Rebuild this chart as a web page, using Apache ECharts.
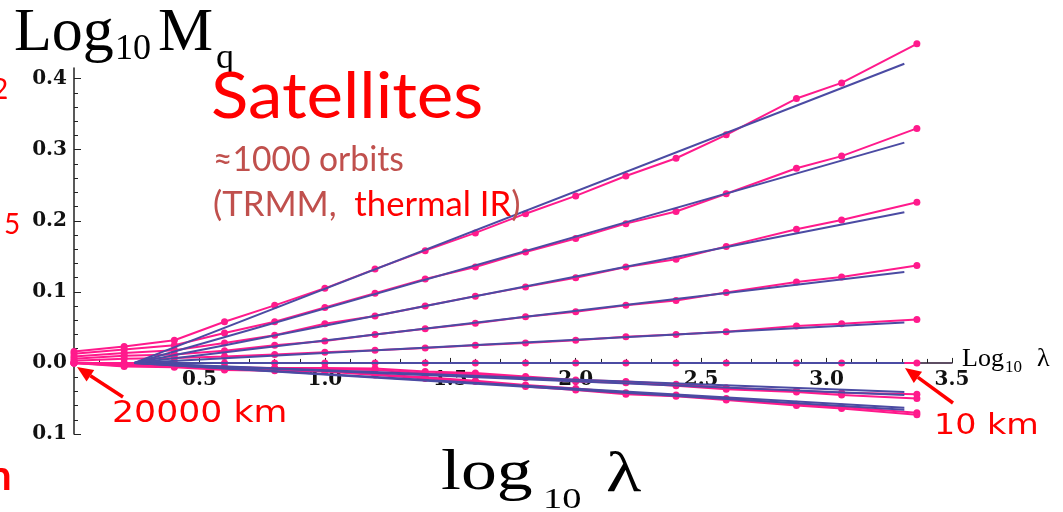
<!DOCTYPE html>
<html>
<head>
<meta charset="utf-8">
<script src="https://cdn.jsdelivr.net/npm/echarts@6/dist/echarts.min.js"></script>
<style>
  html, body { margin: 0; padding: 0; background: #fff; }
  #c { width: 1063px; height: 512px; }
</style>
</head>
<body>
<div id="c"></div>
<script>
// Scale axis: log10 of the scale ratio (0 = 20000 km, right end = 10 km)
const logLambda = [0, 0.2, 0.4, 0.6, 0.8, 1.0, 1.2, 1.4, 1.6, 1.8, 2.0, 2.2, 2.4, 2.6, 2.88, 3.06, 3.36];

// Normalised moments log10 M_q, one array per moment order (top to bottom)
const m1  = [0.016, 0.023, 0.032, 0.058, 0.081, 0.105, 0.132, 0.158, 0.183, 0.210, 0.235, 0.263, 0.288, 0.321, 0.372, 0.394, 0.449];
const m2  = [0.013, 0.019, 0.025, 0.042, 0.058, 0.078, 0.098, 0.118, 0.135, 0.156, 0.175, 0.196, 0.213, 0.238, 0.274, 0.291, 0.330];
const m3  = [0.009, 0.014, 0.018, 0.028, 0.039, 0.055, 0.066, 0.080, 0.094, 0.107, 0.120, 0.135, 0.146, 0.164, 0.188, 0.201, 0.226];
const m4  = [0.006, 0.010, 0.012, 0.017, 0.025, 0.031, 0.040, 0.048, 0.056, 0.065, 0.072, 0.081, 0.088, 0.099, 0.114, 0.121, 0.137];
const m5  = [0.003, 0.006, 0.007, 0.009, 0.012, 0.015, 0.018, 0.021, 0.025, 0.028, 0.032, 0.037, 0.040, 0.044, 0.052, 0.055, 0.061];
const m6  = [0, 0, 0, 0, 0, 0, 0, 0, 0, 0, 0, 0, 0, 0, 0, 0, 0];
const m7  = [0, -0.002, -0.003, -0.006, -0.007, -0.007, -0.008, -0.012, -0.014, -0.019, -0.024, -0.026, -0.030, -0.035, -0.039, -0.042, -0.044];
const m8  = [0, -0.003, -0.004, -0.007, -0.008, -0.009, -0.010, -0.014, -0.016, -0.021, -0.026, -0.028, -0.032, -0.037, -0.041, -0.045, -0.050];
const m9  = [0, -0.004, -0.005, -0.009, -0.010, -0.011, -0.016, -0.020, -0.025, -0.031, -0.036, -0.042, -0.045, -0.050, -0.058, -0.062, -0.070];
const m10 = [0, -0.005, -0.006, -0.010, -0.011, -0.012, -0.017, -0.022, -0.026, -0.033, -0.038, -0.044, -0.047, -0.052, -0.060, -0.064, -0.073];

// Straight-line fits: common start on the zero line, end values per moment order
const fitStartX = 0.24;
const fitEndX = 3.31;
const fitEndValues = [0.421, 0.310, 0.212, 0.128, 0.057, 0, -0.041, -0.045, -0.063, -0.066];

// Tick labels
const xTickValues = [0.5, 1.0, 1.5, 2.0, 2.5, 3.0, 3.5];
const xTickLabels = ['0.5', '1.0', '1.5', '2.0', '2.5', '3.0', '3.5'];
const yTickValues = [-0.1, 0, 0.1, 0.2, 0.3, 0.4];
const yTickLabels = ['0.1', '0.0', '0.1', '0.2', '0.3', '0.4'];

const PINK = '#ff1a8c';
const BLUE = '#4b4ba3';
const RED = '#ff0000';
const BROWN = '#c0504d';

const curves = [m1, m2, m3, m4, m5, m6, m7, m8, m9, m10];

const Y_MIN = -0.1, Y_MAX = 0.415;
const GRID = { left: 74, right: 111, top: 68, bottom: 78 };
const plotHeight = 512 - GRID.top - GRID.bottom;
// the horizontal axis sits on the zero line, lifted from the grid bottom
const zeroLift = plotHeight * (0 - Y_MIN) / (Y_MAX - Y_MIN);

// minor y ticks every 0.02 between the labelled ticks
const yMinor = [];
for (let k = -5; k <= 20; k++) { if (k % 5 !== 0) yMinor.push(k / 50); }

function labelFor(values, labels) {
  return function (v) {
    const i = values.findIndex(t => Math.abs(t - v) < 1e-9);
    return i < 0 ? '' : labels[i];
  };
}

const series = [];
curves.forEach(vals => {
  series.push({
    type: 'line',
    data: logLambda.map((x, i) => [x, vals[i]]),
    symbol: 'circle',
    symbolSize: 7,
    lineStyle: { color: PINK, width: 2 },
    itemStyle: { color: PINK },
    clip: false,
    silent: true,
    z: 3
  });
});
curves.forEach((vals, k) => {
  series.push({
    type: 'line',
    data: [[fitStartX, 0], [fitEndX, fitEndValues[k]]],
    symbol: 'none',
    lineStyle: { color: BLUE, width: 2 },
    clip: false,
    silent: true,
    z: 4
  });
});

// text helper: x = left edge, y = vertical middle of the em box
function txt(x, y, text, font, fill, scaleX) {
  return {
    type: 'text', x: x, y: y, scaleX: scaleX || 1, z: 20, silent: true,
    style: { text: text, font: font, fill: fill, textAlign: 'left', textVerticalAlign: 'middle', align: 'left', verticalAlign: 'middle' }
  };
}
function arrow(x1, y1, x2, y2, color) {
  const dx = x2 - x1, dy = y2 - y1, len = Math.hypot(dx, dy);
  const ux = dx / len, uy = dy / len;
  const hl = 16, hw = 7;
  const bx = x2 - ux * hl, by = y2 - uy * hl;
  return [
    { type: 'line', z: 20, silent: true, shape: { x1: x1, y1: y1, x2: bx, y2: by }, style: { stroke: color, lineWidth: 3.5 } },
    { type: 'polygon', z: 20, silent: true, shape: { points: [[x2, y2], [bx - uy * hw, by + ux * hw], [bx + uy * hw, by - ux * hw]] }, style: { fill: color } }
  ];
}

const serif = '"Liberation Serif", "Times New Roman", serif';
const graphics = [
  // vertical axis title
  txt(14, 34, 'Log', '62px ' + serif, '#000'),
  txt(115, 50, '10', '36px ' + serif, '#000'),
  txt(158, 34, 'M', '62px ' + serif, '#000'),
  txt(216, 59, 'q', '36px ' + serif, '#000'),
  // horizontal axis title (bottom)
  txt(441, 474, 'log', '56px ' + serif, '#000', 1.28),
  txt(543, 500, '10', '30px ' + serif, '#000', 1.28),
  txt(606, 476, 'λ', '56px ' + serif, '#000', 1.3),
  // axis end label
  txt(962, 359, 'Log', '26px ' + serif, '#000'),
  txt(1005, 368, '10', '17px ' + serif, '#000'),
  txt(1037, 359, 'λ', '26px ' + serif, '#000'),
  // heading and data description
  txt(211, 97, 'Satellites', '64px Lato', RED, 1.08),
  txt(213, 159.5, '≈1000 orbits', '35px Lato', BROWN, 0.96),
  {
    type: 'text', x: 213, y: 204.5, z: 20, silent: true, scaleX: 0.99,
    style: {
      text: '{a|(TRMM,}{b|  thermal IR}{a|)}',
      font: '35px Lato', textAlign: 'left', textVerticalAlign: 'middle', align: 'left', verticalAlign: 'middle',
      rich: {
        a: { fill: BROWN, color: BROWN, font: '35px Lato' },
        b: { fill: RED, color: RED, font: '35px Lato' }
      }
    }
  },
  // scale annotations
  txt(112, 414, '20000 km', '31px "DejaVu Sans"', RED, 1.12),
  txt(934, 427, '10 km', '28px "DejaVu Sans"', RED, 1.19),
  // fragments at the left edge
  txt(-8, 90, '2', '28px Lato', RED),
  txt(4, 225, '5', '28px Lato', RED),
  txt(-12, 476, 'n', 'bold 42px Lato', RED)
].concat(arrow(123, 397, 77, 367, RED), arrow(953, 403, 905, 368, RED));

const tickFont = { fontFamily: 'DejaVu Serif', fontWeight: 'bold', fontSize: 20, color: '#111' };

const option = {
  animation: false,
  backgroundColor: '#ffffff',
  grid: { left: GRID.left, right: GRID.right, top: GRID.top, bottom: GRID.bottom, containLabel: false },
  xAxis: {
    type: 'value', min: 0, max: 3.5, interval: 0.5,
    position: 'bottom', offset: -zeroLift,
    axisLine: { show: true, onZero: false, lineStyle: { color: '#2a1530', width: 1.5 } },
    axisTick: { show: true, inside: true, length: 5, lineStyle: { color: '#222' } },
    minorTick: { show: true, splitNumber: 5, length: 4, lineStyle: { color: '#222' } },
    axisLabel: Object.assign({ formatter: labelFor(xTickValues, xTickLabels), margin: 7 }, tickFont),
    splitLine: { show: false }
  },
  yAxis: [
    {
      type: 'value', min: Y_MIN, max: Y_MAX, position: 'left',
      axisLine: { show: true, onZero: false, lineStyle: { color: '#222', width: 1.5 } },
      axisTick: { show: true, inside: true, length: 7, customValues: yTickValues, lineStyle: { color: '#222' } },
      axisLabel: Object.assign({ customValues: yTickValues, formatter: labelFor(yTickValues, yTickLabels), margin: 7 }, tickFont),
      splitLine: { show: false }
    },
    {
      type: 'value', min: Y_MIN, max: Y_MAX, position: 'left',
      axisLine: { show: false, onZero: false },
      axisTick: { show: true, inside: true, length: 4, customValues: yMinor, lineStyle: { color: '#222' } },
      axisLabel: { show: false },
      splitLine: { show: false }
    }
  ],
  series: series,
  graphic: { elements: graphics }
};

const chart = echarts.init(document.getElementById('c'));
chart.setOption(option);
</script>
</body>
</html>
